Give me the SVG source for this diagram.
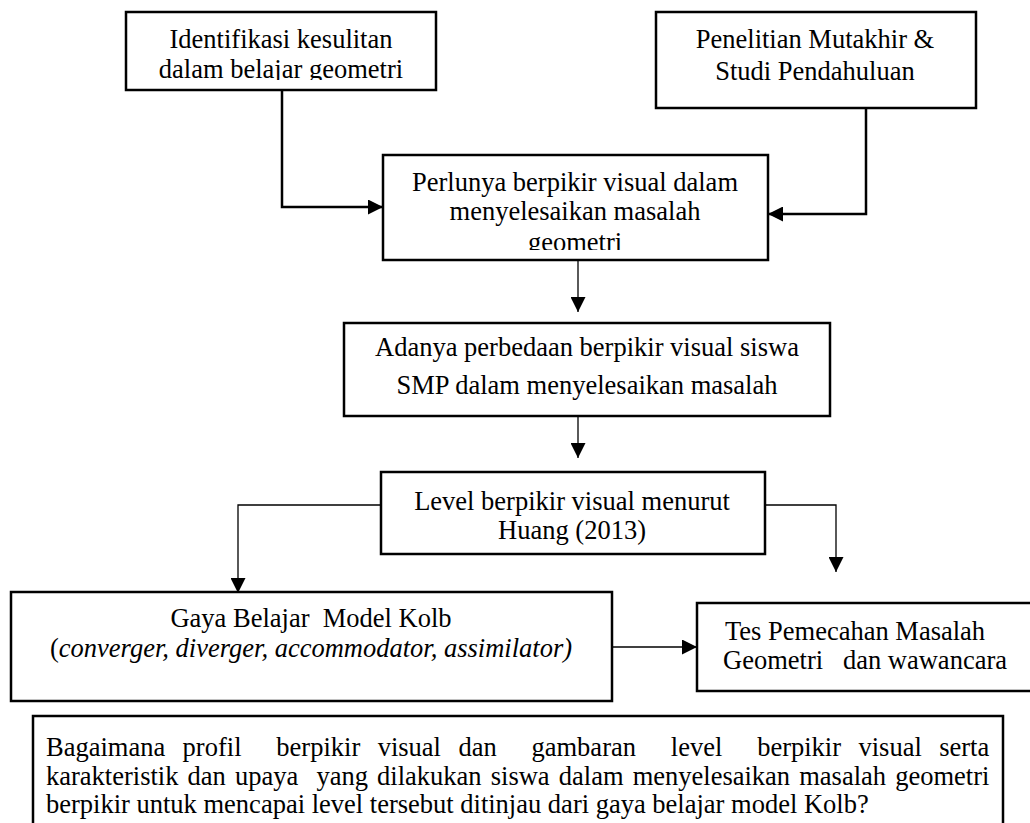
<svg xmlns="http://www.w3.org/2000/svg" width="1030" height="823" viewBox="0 0 1030 823">
<style>
.box{fill:#fff;stroke:#000;stroke-width:2.5}
.t{font-family:"Liberation Serif","Times New Roman",serif;font-size:26.5px;fill:#000;white-space:pre}
.m{text-anchor:middle}
.thick{fill:none;stroke:#000;stroke-width:2.5}
.thin{fill:none;stroke:#000;stroke-width:1.3}
</style>
<defs>
<marker id="ah" viewBox="0 0 15 15" refX="15" refY="7.5" markerWidth="15" markerHeight="15" markerUnits="userSpaceOnUse" orient="auto">
<path d="M0,0 L15,7.5 L0,15 z" fill="#000"/>
</marker>
<clipPath id="c1"><rect x="126" y="12" width="310" height="68"/></clipPath>
<clipPath id="c3"><rect x="383" y="155" width="385" height="95"/></clipPath>
</defs>
<g id="connectors">
<path class="thick" d="M282,90 V207 H383" marker-end="url(#ah)"/>
<path class="thick" d="M866,108 V214 H768" marker-end="url(#ah)"/>
<path class="thin" d="M578,261 V312" marker-end="url(#ah)"/>
<path class="thin" d="M578,416 V458" marker-end="url(#ah)"/>
<path class="thin" d="M381,505 H238 V593" marker-end="url(#ah)"/>
<path class="thin" d="M765,505 H836 V572" marker-end="url(#ah)"/>
<path class="thin" d="M612,647 H697" marker-end="url(#ah)"/>
</g>
<g id="n1">
<rect class="box" x="126" y="12" width="310" height="78"/>
<g clip-path="url(#c1)">
<text class="t m" x="281" y="48">Identifikasi kesulitan</text>
<text class="t m" x="281" y="78">dalam belajar geometri</text>
</g>
</g>
<g id="n2">
<rect class="box" x="656" y="12" width="320" height="96"/>
<text class="t m" x="815" y="48">Penelitian Mutakhir &amp;</text>
<text class="t m" x="815" y="80">Studi Pendahuluan</text>
</g>
<g id="n3">
<rect class="box" x="383" y="155" width="385" height="105"/>
<g clip-path="url(#c3)">
<text class="t m" x="575" y="191">Perlunya berpikir visual dalam</text>
<text class="t m" x="575" y="220">menyelesaikan masalah</text>
<text class="t m" x="575" y="251">geometri</text>
</g>
</g>
<g id="n4">
<rect class="box" x="344" y="323" width="486" height="93"/>
<text class="t m" x="587" y="356">Adanya perbedaan berpikir visual siswa</text>
<text class="t m" x="587" y="394">SMP dalam menyelesaikan masalah</text>
</g>
<g id="n5">
<rect class="box" x="381" y="472" width="384" height="82"/>
<text class="t m" x="572" y="510">Level berpikir visual menurut</text>
<text class="t m" x="572" y="539">Huang (2013)</text>
</g>
<g id="n6">
<rect class="box" x="11" y="592" width="601" height="109"/>
<text class="t m" x="311" y="627">Gaya Belajar  Model Kolb</text>
<text class="t m" x="311" y="657">(<tspan font-style="italic">converger, diverger, accommodator, assimilator)</tspan></text>
</g>
<g id="n7">
<rect class="box" x="697" y="603" width="336" height="88"/>
<text class="t" x="725" y="640">Tes Pemecahan Masalah</text>
<text class="t" x="723" y="669">Geometri   dan wawancara</text>
</g>
<g id="n8">
<rect class="box" x="33" y="716" width="970" height="115"/>
<text class="t" x="46" y="756" word-spacing="10.8">Bagaimana profil  berpikir visual dan  gambaran  level  berpikir visual serta</text>
<text class="t" x="46" y="785" word-spacing="2.5">karakteristik dan upaya  yang dilakukan siswa dalam menyelesaikan masalah geometri</text>
<text class="t" x="46" y="813">berpikir untuk mencapai level tersebut ditinjau dari gaya belajar model Kolb?</text>
</g>
</svg>
